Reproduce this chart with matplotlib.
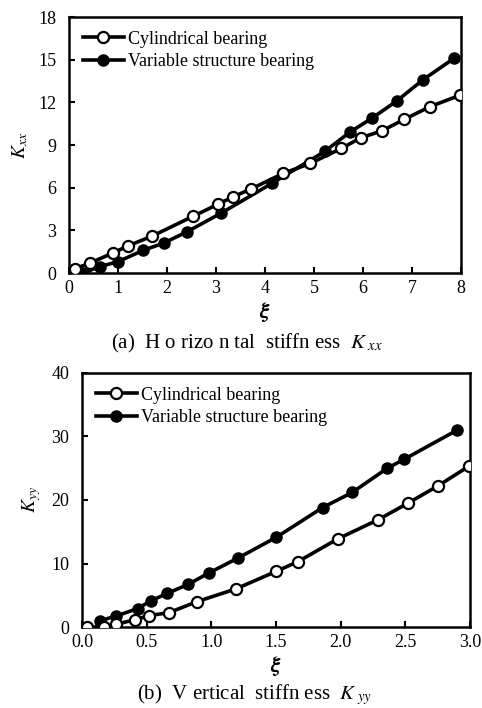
import matplotlib.pyplot as plt

plt.rcParams['font.family'] = ['Liberation Serif', 'DejaVu Serif']
plt.rcParams['mathtext.fontset'] = 'stix'

# (a) horizontal stiffness
xa_cyl = [0.12, 0.43, 0.89, 1.2, 1.7, 2.54, 3.05, 3.35, 3.71, 4.37, 4.92, 5.56, 5.95, 6.39, 6.84, 7.37, 7.98]
ya_cyl = [0.3, 0.7, 1.4, 1.9, 2.6, 4.0, 4.85, 5.36, 5.9, 7.0, 7.7, 8.76, 9.5, 10.0, 10.8, 11.7, 12.5]
xa_var = [0.29, 0.63, 1.0, 1.52, 1.93, 2.41, 3.1, 4.14, 5.22, 5.73, 6.19, 6.69, 7.23, 7.86]
ya_var = [0.0, 0.45, 0.8, 1.6, 2.1, 2.9, 4.2, 6.3, 8.55, 9.9, 10.9, 12.1, 13.6, 15.1]

# (b) vertical stiffness
xb_cyl = [0.04, 0.17, 0.26, 0.41, 0.52, 0.67, 0.89, 1.19, 1.50, 1.67, 1.98, 2.29, 2.52, 2.75, 2.99]
yb_cyl = [0.0, 0.0, 0.4, 1.15, 1.8, 2.25, 4.0, 6.0, 8.75, 10.3, 13.9, 16.9, 19.5, 22.2, 25.3]
xb_var = [0.14, 0.26, 0.43, 0.53, 0.66, 0.82, 0.98, 1.21, 1.50, 1.86, 2.09, 2.36, 2.49, 2.90]
yb_var = [1.0, 1.7, 2.9, 4.1, 5.3, 6.7, 8.5, 10.9, 14.1, 18.8, 21.2, 25.0, 26.4, 31.0]

fig = plt.figure(figsize=(4.82, 7.08), dpi=100)
W, H = 482, 708
ax1 = fig.add_axes([69 / W, 1 - 273 / H, (461 - 69) / W, (273 - 17) / H])
ax2 = fig.add_axes([82 / W, 1 - 627 / H, (470 - 82) / W, (627 - 373) / H])

def draw(ax, xc, yc, xv, yv):
    ax.plot(xc, yc, '-o', color='black', lw=2.6, ms=8, mfc='white', mec='black', mew=1.6,
            label='Cylindrical bearing', zorder=3)
    ax.plot(xv, yv, '-o', color='black', lw=2.6, ms=8, mfc='black', mec='black',
            label='Variable structure bearing', zorder=2)
    for s in ax.spines.values():
        s.set_linewidth(1.8)
    ax.tick_params(direction='in', width=1.5, length=4, labelsize=13)
    ax.tick_params(axis='y', pad=9)
    ax.tick_params(axis='x', pad=5)
    ax.legend(loc='upper left', frameon=False, fontsize=13, handlelength=2.3,
              borderaxespad=0.35, labelspacing=0.3, handletextpad=0.2)
    ax.set_xlabel(r'$\boldsymbol{\xi}$', fontsize=16, labelpad=2)

draw(ax1, xa_cyl, ya_cyl, xa_var, ya_var)
ax1.set_xlim(0, 8)
ax1.set_ylim(0, 18)
ax1.set_xticks(range(0, 9))
ax1.set_yticks(range(0, 19, 3))
ax1.set_ylabel(r'$\boldsymbol{K_{xx}}$', fontsize=14, labelpad=6)
fig.text(247 / W, 1 - 343 / H, '(a)  H o rizo n tal  stiffn ess  $K_{\\ x x}$',
         ha='center', va='center', fontsize=15)

draw(ax2, xb_cyl, yb_cyl, xb_var, yb_var)
ax2.set_xlim(0, 3)
ax2.set_ylim(0, 40)
ax2.set_xticks([0, 0.5, 1.0, 1.5, 2.0, 2.5, 3.0])
ax2.set_xticklabels(['0.0', '0.5', '1.0', '1.5', '2.0', '2.5', '3.0'])
ax2.set_yticks(range(0, 41, 10))
ax2.set_ylabel(r'$\boldsymbol{K_{yy}}$', fontsize=14, labelpad=6)
fig.text(255 / W, 1 - 695 / H, '(b)  V ertical  stiffn ess  $K_{\\ y y}$',
         ha='center', va='center', fontsize=15)

fig.savefig('out.png', dpi=100)
